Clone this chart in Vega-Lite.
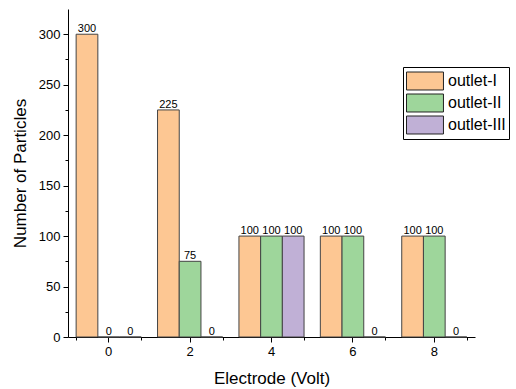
{
  "$schema": "https://vega.github.io/schema/vega-lite/v6.json",
  "autosize": "none",
  "padding": {"left": 68, "top": 9, "right": 41, "bottom": 52},
  "width": 407,
  "height": 328,
  "background": "white",
  "config": {
    "view": {"stroke": null},
    "font": "Liberation Sans",
    "axis": {
      "domainColor": "black",
      "tickColor": "black",
      "labelColor": "black",
      "titleColor": "black",
      "labelFontSize": 13,
      "titleFontSize": 17,
      "titleFontWeight": "normal",
      "grid": false,
      "tickSize": 5,
      "domainWidth": 1,
      "tickWidth": 1
    }
  },
  "data": {
    "values": [
      {"electrode": 0, "outlet": "outlet-I", "count": 300},
      {"electrode": 0, "outlet": "outlet-II", "count": 0},
      {"electrode": 0, "outlet": "outlet-III", "count": 0},
      {"electrode": 2, "outlet": "outlet-I", "count": 225},
      {"electrode": 2, "outlet": "outlet-II", "count": 75},
      {"electrode": 2, "outlet": "outlet-III", "count": 0},
      {"electrode": 4, "outlet": "outlet-I", "count": 100},
      {"electrode": 4, "outlet": "outlet-II", "count": 100},
      {"electrode": 4, "outlet": "outlet-III", "count": 100},
      {"electrode": 6, "outlet": "outlet-I", "count": 100},
      {"electrode": 6, "outlet": "outlet-II", "count": 100},
      {"electrode": 6, "outlet": "outlet-III", "count": 0},
      {"electrode": 8, "outlet": "outlet-I", "count": 100},
      {"electrode": 8, "outlet": "outlet-II", "count": 100},
      {"electrode": 8, "outlet": "outlet-III", "count": 0}
    ]
  },
  "encoding": {
    "x": {
      "field": "electrode",
      "type": "ordinal",
      "scale": {"domain": [0, 2, 4, 6, 8], "paddingInner": 0.2, "paddingOuter": 0.1}
    },
    "xOffset": {
      "field": "outlet",
      "type": "nominal",
      "scale": {"domain": ["outlet-I", "outlet-II", "outlet-III"], "paddingInner": 0, "paddingOuter": 0}
    },
    "y": {
      "field": "count",
      "type": "quantitative",
      "stack": null,
      "scale": {"domain": [0, 325], "nice": false}
    }
  },
  "resolve": {"axis": {"x": "independent", "y": "independent"}},
  "layer": [
    {
      "mark": {"type": "bar", "stroke": "#444444", "strokeWidth": 1},
      "encoding": {
        "x": {
          "field": "electrode",
          "type": "ordinal",
          "axis": {"orient": "bottom", "labelAngle": 0, "title": "Electrode (Volt)", "labelPadding": 3, "titlePadding": 12}
        },
        "y": {
          "field": "count",
          "type": "quantitative",
          "stack": null,
          "axis": {"orient": "left", "values": [0, 50, 100, 150, 200, 250, 300], "title": "Number of Particles", "labelPadding": 3, "titlePadding": 9}
        },
        "color": {
          "field": "outlet",
          "type": "nominal",
          "scale": {"domain": ["outlet-I", "outlet-II", "outlet-III"], "range": ["#FDC793", "#9ED69B", "#C0B0D6"]},
          "legend": {
            "title": null,
            "orient": "none",
            "legendX": 335,
            "legendY": 58,
            "strokeColor": "black",
            "fillColor": "white",
            "padding": 3,
            "symbolType": "M-1,-0.857H2.52V0.857H-1Z",
            "symbolSize": 441,
            "symbolStrokeColor": "#222222",
            "symbolStrokeWidth": 1,
            "symbolOpacity": 1,
            "labelFontSize": 16,
            "labelColor": "black",
            "labelOffset": 20,
            "rowPadding": 0
          }
        }
      }
    },
    {
      "mark": {"type": "text", "baseline": "alphabetic", "dy": -2, "fontSize": 11, "color": "black"},
      "encoding": {
        "x": {
          "field": "electrode",
          "type": "ordinal",
          "axis": {"orient": "bottom", "tickBand": "extent", "labels": false, "domain": false, "tickSize": 3, "title": null}
        },
        "y": {
          "field": "count",
          "type": "quantitative",
          "stack": null,
          "axis": {"orient": "left", "values": [25, 75, 125, 175, 225, 275], "labels": false, "domain": false, "tickSize": 3, "title": null}
        },
        "text": {"field": "count", "type": "quantitative"}
      }
    }
  ]
}
